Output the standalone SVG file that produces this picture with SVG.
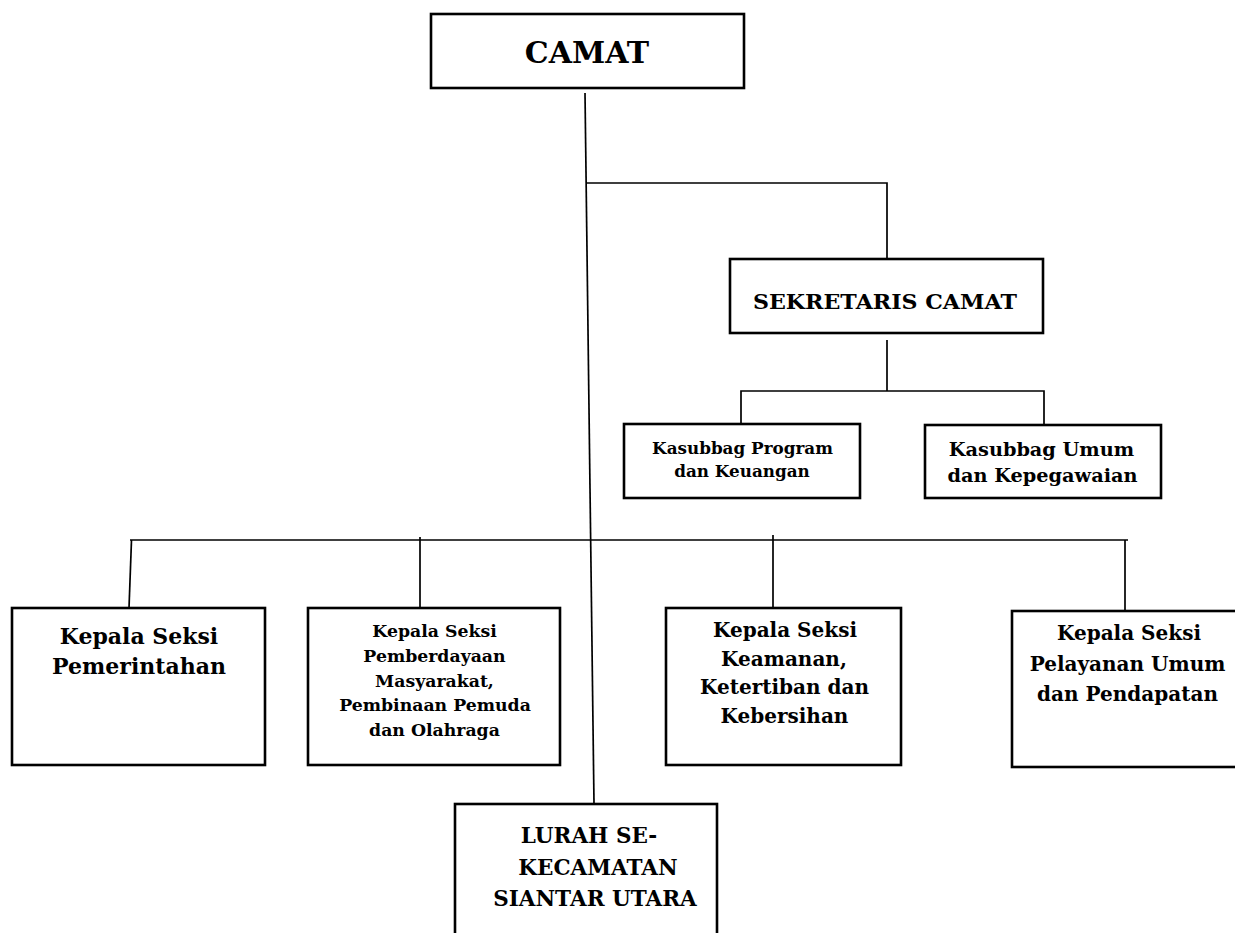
<svg xmlns="http://www.w3.org/2000/svg" width="1235" height="933" viewBox="0 0 1235 933">
<style>
.box{fill:#fff;stroke:#000;stroke-width:2.6}
.ln{fill:none;stroke:#000;stroke-width:1.7}
text{font-family:"DejaVu Serif","Liberation Serif",serif;font-weight:bold;fill:#000;text-anchor:middle}
</style>
<rect width="1235" height="933" fill="#fff"/>
<g id="connectors">
<line class="ln" x1="585" y1="93" x2="594" y2="804"/>
<polyline class="ln" points="586,183 887,183 887,259"/>
<line class="ln" x1="887" y1="340" x2="887" y2="391"/>
<polyline class="ln" points="741,424 741,391 1044,391 1044,424"/>
<line class="ln" x1="130" y1="540" x2="1128" y2="540"/>
<line class="ln" x1="131.5" y1="540" x2="129" y2="608"/>
<line class="ln" x1="420" y1="537" x2="420" y2="608"/>
<line class="ln" x1="773" y1="535" x2="773" y2="608"/>
<line class="ln" x1="1125" y1="540" x2="1125" y2="611"/>
</g>
<g id="camat"><rect class="box" x="431" y="14" width="313" height="74"/><text x="587" y="63" font-size="30">CAMAT</text></g>
<g id="sekretaris"><rect class="box" x="730" y="259" width="313" height="74"/><text x="885" y="309" font-size="21" textLength="264" lengthAdjust="spacingAndGlyphs">SEKRETARIS CAMAT</text></g>
<g id="kasubbag-program"><rect class="box" x="624" y="424" width="236" height="74"/><text font-size="16.8"><tspan x="742.5" y="454">Kasubbag Program</tspan><tspan x="742" y="477">dan Keuangan</tspan></text></g>
<g id="kasubbag-umum"><rect class="box" x="925" y="425" width="236" height="73"/><text font-size="19.3"><tspan x="1041.5" y="456">Kasubbag Umum</tspan><tspan x="1042.5" y="482">dan Kepegawaian</tspan></text></g>
<g id="kasi-pemerintahan"><rect class="box" x="12" y="608" width="253" height="157"/><text font-size="22"><tspan x="139" y="644">Kepala Seksi</tspan><tspan x="139" y="674">Pemerintahan</tspan></text></g>
<g id="kasi-pemberdayaan"><rect class="box" x="308" y="608" width="252" height="157"/><text font-size="17.3"><tspan x="434.5" y="637">Kepala Seksi</tspan><tspan x="434.5" y="662">Pemberdayaan</tspan><tspan x="434.5" y="686.5">Masyarakat,</tspan><tspan x="435" y="711">Pembinaan Pemuda</tspan><tspan x="434.5" y="735.5">dan Olahraga</tspan></text></g>
<g id="kasi-keamanan"><rect class="box" x="666" y="608" width="235" height="157"/><text font-size="20"><tspan x="785" y="637">Kepala Seksi</tspan><tspan x="784" y="666">Keamanan,</tspan><tspan x="784.5" y="694">Ketertiban dan</tspan><tspan x="784.5" y="723">Kebersihan</tspan></text></g>
<g id="kasi-pelayanan"><rect class="box" x="1012" y="611" width="230" height="156"/><text font-size="20"><tspan x="1129" y="640">Kepala Seksi</tspan><tspan x="1127.5" y="671">Pelayanan Umum</tspan><tspan x="1127.5" y="701">dan Pendapatan</tspan></text></g>
<g id="lurah"><rect class="box" x="455" y="804" width="262" height="140"/><text font-size="21.5"><tspan x="589" y="843">LURAH SE-</tspan><tspan x="598" y="875">KECAMATAN</tspan><tspan x="595" y="906">SIANTAR UTARA</tspan></text></g>
</svg>
